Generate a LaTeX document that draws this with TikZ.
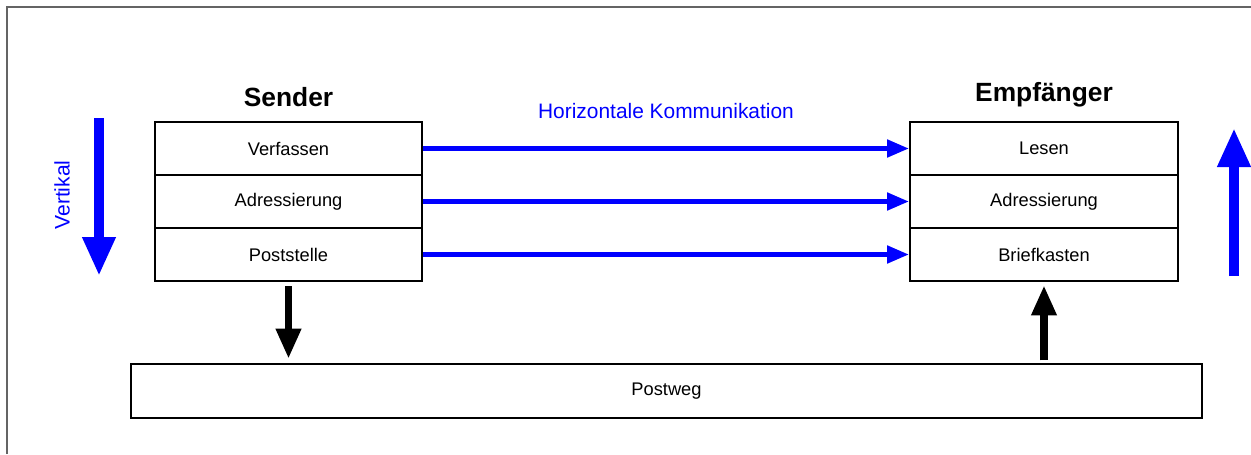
\documentclass[tikz,border=0pt]{standalone}
\usepackage{fontspec}
\setmainfont{Liberation Sans}
\usetikzlibrary{arrows.meta, positioning}
\definecolor{signal_blue}{RGB}{0, 0, 255}
\definecolor{frame_gray}{RGB}{100, 100, 100}

\begin{document}
\begin{tikzpicture}[
    % Layer box style
    layer/.style={
        rectangle,
        draw=black,
        line width=1.1pt,
        minimum width=#1,
        minimum height=1.06cm,
        inner sep=0pt,
        font=\fontsize{10.4}{12}\selectfont
    },
    layer/.default=5.34cm,
    % Side heading style
    side/.style={
        font=\fontsize{15}{18}\selectfont\bfseries
    },
    % Horizontal flow style
    flow/.style={
        -{Triangle[length=0.44cm, width=0.34cm]},
        line width=2.8pt,
        signal_blue
    },
    % Vertical flow style
    stack/.style={
        -{Triangle[length=0.78cm, width=0.62cm]},
        line width=6pt,
        signal_blue
    },
    % Transport arrow style
    carry/.style={
        -{Triangle[length=0.6cm, width=0.48cm]},
        line width=4pt,
        black
    }
]
\useasboundingbox (0,0) rectangle (25.02,9.08);

% Frame
\draw[frame_gray, line width=0.7pt] (0.14,0) -- (0.14,8.94) -- (25.02,8.94);

% Sender side
\node[side] (sender) at (5.77,7.14) {Sender};
\node[layer] (verfassen) at (5.77,6.11) {Verfassen};
\node[layer] (adrS) at (5.77,5.05) {Adressierung};
\node[layer] (poststelle) at (5.77,3.99) {Poststelle};

% Receiver side
\node[side] (empf) at (20.88,7.18) {Empfänger};
\node[layer=5.36cm] (lesen) at (20.88,6.11) {Lesen};
\node[layer=5.36cm] (adrE) at (20.88,5.05) {Adressierung};
\node[layer=5.36cm] (briefkasten) at (20.88,3.99) {Briefkasten};

% Transport
\node[layer=21.42cm, minimum height=1.08cm] (postweg) at (13.33,1.26) {Postweg};

% Horizontal communication
\node[text=signal_blue, font=\fontsize{11.9}{14}\selectfont] (horiz) at (13.32,6.86) {Horizontale Kommunikation};
\draw[flow] (verfassen.east) -- (lesen.west);
\draw[flow] (adrS.east) -- (adrE.west);
\draw[flow] (poststelle.east) -- (briefkasten.west);

% Vertical direction
\coordinate (vtopL) at (1.98,6.72);
\coordinate (vbotL) at (1.98,3.56);
\coordinate (vbotR) at (24.68,3.56);
\coordinate (vtopR) at (24.68,6.52);
\draw[stack] (vtopL) -- (vbotL);
\draw[stack] (vbotR) -- (vtopR);
\node[text=signal_blue, rotate=90, font=\fontsize{12}{14}\selectfont] (vert) at (1.24,5.18) {Vertikal};

% Down to the mail route and up again
\draw[carry] ([yshift=-2.5pt]poststelle.south) -- ([yshift=2.5pt]poststelle.south |- postweg.north);
\draw[carry] ([yshift=1.5pt]briefkasten.south |- postweg.north) -- ([yshift=-2pt]briefkasten.south);

\end{tikzpicture}
\end{document}
